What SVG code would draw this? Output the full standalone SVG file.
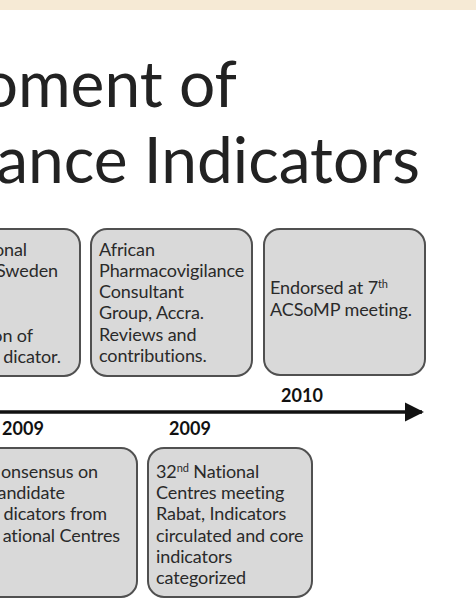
<svg xmlns="http://www.w3.org/2000/svg" width="476" height="614" viewBox="0 0 476 614">
<style>
.bg{fill:#ffffff}
.band{fill:#f6ead5}
.title{font-family:Lato,"Liberation Sans",sans-serif;font-size:64px;fill:#222222}
.box{fill:#d9d9d9;stroke:#505050;stroke-width:2}
.t{font-family:Lato,"Liberation Sans",sans-serif;font-size:18px;fill:#2a2a2a;letter-spacing:-0.1px}
.yr{font-family:Lato,"Liberation Sans",sans-serif;font-size:18px;font-weight:bold;fill:#111111}
.sup{font-size:11px}
</style>
<defs>
<marker id="ah" viewBox="0 0 10 10" refX="9" refY="5" markerWidth="5.5" markerHeight="5.5" markerUnits="strokeWidth" orient="auto">
<path d="M0,0 L10,5 L0,10 z" fill="#111111"/>
</marker>
</defs>
<rect class="bg" x="0" y="0" width="476" height="614"/>
<rect class="band" x="0" y="0" width="476" height="10"/>
<g id="title">
<text class="title" x="237" y="107" text-anchor="end">oment of</text>
<text class="title" x="420" y="183" text-anchor="end">ance Indicators</text>
</g>
<g id="connectors">
<line x1="0" y1="412" x2="422" y2="412" stroke="#111111" stroke-width="3.5" marker-end="url(#ah)"/>
</g>
<g id="node-a">
<rect class="box" x="-40" y="229" width="120" height="147" rx="16"/>
<text class="t" text-anchor="end"><tspan x="27" y="256">onal</tspan><tspan x="58" y="277">Sweden</tspan><tspan x="33" y="342">on of</tspan><tspan x="61" y="363">dicator.</tspan></text>
</g>
<g id="node-b">
<rect class="box" x="91" y="229" width="161" height="147" rx="16"/>
<text class="t"><tspan x="99" y="256">African</tspan><tspan x="99" y="277">Pharmacovigilance</tspan><tspan x="99" y="298">Consultant</tspan><tspan x="99" y="319">Group, Accra.</tspan><tspan x="99" y="341">Reviews and</tspan><tspan x="99" y="362">contributions.</tspan></text>
</g>
<g id="node-c">
<rect class="box" x="264" y="229" width="161" height="146" rx="16"/>
<text class="t"><tspan x="270" y="294">Endorsed at 7<tspan class="sup" dy="-6">th</tspan></tspan><tspan x="270" y="316">ACSoMP meeting.</tspan></text>
</g>
<g id="label-2010">
<text class="yr" x="302" y="402" text-anchor="middle">2010</text>
</g>
<g id="label-2009a">
<text class="yr" x="23" y="435" text-anchor="middle">2009</text>
</g>
<g id="label-2009b">
<text class="yr" x="190" y="435" text-anchor="middle">2009</text>
</g>
<g id="node-d">
<rect class="box" x="-40" y="448" width="177" height="149" rx="16"/>
<text class="t" text-anchor="end"><tspan x="98" y="478">onsensus on</tspan><tspan x="65" y="499">andidate</tspan><tspan x="107" y="520">dicators from</tspan><tspan x="120" y="542">ational Centres</tspan></text>
</g>
<g id="node-e">
<rect class="box" x="148" y="448" width="164" height="149" rx="16"/>
<text class="t"><tspan x="156" y="478">32<tspan class="sup" dy="-6">nd</tspan><tspan dy="6"> National</tspan></tspan><tspan x="156" y="499">Centres meeting</tspan><tspan x="156" y="520">Rabat, Indicators</tspan><tspan x="156" y="542">circulated and core</tspan><tspan x="156" y="563">indicators</tspan><tspan x="156" y="584">categorized</tspan></text>
</g>
</svg>
